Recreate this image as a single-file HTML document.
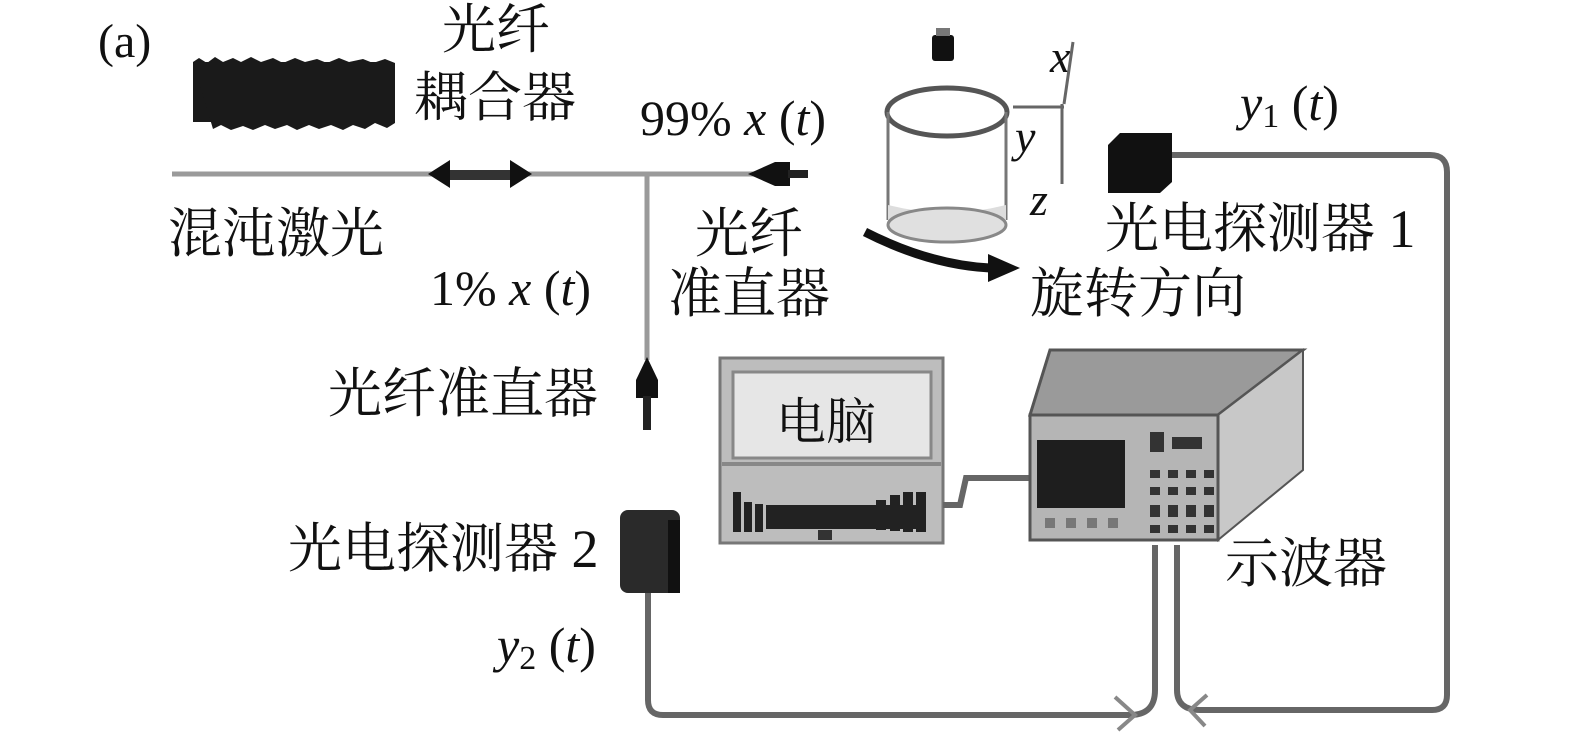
<!DOCTYPE html>
<html><head><meta charset="utf-8"><style>
html,body{margin:0;padding:0;background:#fff}
svg{display:block}
text{font-family:"Liberation Serif","Noto Serif CJK SC",serif;fill:#111}
.cj{font-size:54px}
.it{font-style:italic}
</style></head><body>
<svg width="1575" height="748" viewBox="0 0 1575 748" xmlns="http://www.w3.org/2000/svg">
<!-- labels -->
<text x="98" y="57" font-size="48">(a)</text>
<text class="cj" x="442" y="48">光纤</text>
<text class="cj" x="414" y="116">耦合器</text>
<text x="640" y="135" font-size="50">99% <tspan class="it">x</tspan> (<tspan class="it">t</tspan>)</text>
<text class="cj" x="168" y="252">混沌激光</text>
<text class="cj" x="695" y="252">光纤</text>
<text class="cj" x="668" y="312">准直器</text>
<text x="430" y="305" font-size="50">1% <tspan class="it">x</tspan> (<tspan class="it">t</tspan>)</text>
<text class="cj" x="328" y="412">光纤准直器</text>
<text class="cj" x="1105" y="247">光电探测器 1</text>
<text class="cj" x="1030" y="312">旋转方向</text>
<text x="1240" y="120" font-size="50"><tspan class="it">y</tspan><tspan font-size="34" dy="7">1</tspan><tspan dy="-7"> (</tspan><tspan class="it">t</tspan>)</text>
<text class="cj" x="288" y="567">光电探测器 2</text>
<text x="497" y="662" font-size="50"><tspan class="it">y</tspan><tspan font-size="34" dy="7">2</tspan><tspan dy="-7"> (</tspan><tspan class="it">t</tspan>)</text>
<text class="cj" x="1225" y="582">示波器</text>
<text class="it" x="1050" y="72" font-size="46">x</text>
<text class="it" x="1015" y="152" font-size="46">y</text>
<text class="it" x="1030" y="215" font-size="46">z</text>

<!-- noise block -->
<rect x="193" y="62" width="194" height="60" fill="#1a1a1a"/>
<path d="M193 62 l6 -4 l8 5 l8 -6 l8 5 l10 -4 l8 4 l10 -5 l10 5 l12 -4 l10 5 l12 -5 l10 4 l12 -3 l10 4 l12 -5 l10 4 l14 -3 l10 4 l12 -4 l10 4 v60 l-8 5 l-12 -5 l-10 6 l-12 -4 l-10 5 l-12 -5 l-12 4 l-10 -4 l-12 5 l-10 -5 l-12 4 l-10 -4 l-12 5 l-10 -4 l-12 4 l-10 -5 l-8 4z" fill="#1a1a1a"/>

<!-- main fiber -->
<line x1="172" y1="174" x2="800" y2="174" stroke="#9a9a9a" stroke-width="5"/>
<line x1="647" y1="174" x2="647" y2="360" stroke="#9a9a9a" stroke-width="5"/>
<!-- coupler -->
<rect x="448" y="170" width="66" height="10" fill="#333"/>
<polygon points="428,174 450,160 450,188" fill="#111"/>
<polygon points="532,174 510,160 510,188" fill="#111"/>
<!-- right collimator -->
<polygon points="748,174 775,162 790,162 790,186 775,186" fill="#111"/>
<rect x="788" y="170" width="20" height="8" fill="#222"/>
<!-- lower collimator -->
<polygon points="647,357 636,380 636,398 658,398 658,380" fill="#111"/>
<rect x="643" y="396" width="8" height="34" fill="#222"/>

<!-- cylinder -->
<rect x="932" y="35" width="22" height="26" rx="3" fill="#111"/>
<rect x="936" y="28" width="14" height="8" fill="#777"/>
<ellipse cx="947" cy="112" rx="60" ry="24" fill="none" stroke="#555" stroke-width="5"/>
<line x1="888" y1="112" x2="888" y2="220" stroke="#777" stroke-width="3"/>
<line x1="1006" y1="112" x2="1006" y2="220" stroke="#777" stroke-width="3"/>
<path d="M888 205 Q947 220 1006 205 L1006 225 Q947 250 888 225Z" fill="#ddd"/>
<ellipse cx="947" cy="225" rx="59" ry="17" fill="#e0e0e0" stroke="#888" stroke-width="3"/>
<path d="M865 232 Q930 265 990 268" fill="none" stroke="#111" stroke-width="9"/>
<polygon points="1020,268 988,254 988,282" fill="#111"/>
<!-- axes -->
<line x1="1073" y1="42" x2="1064" y2="104" stroke="#666" stroke-width="3"/>
<line x1="1013" y1="107" x2="1064" y2="107" stroke="#666" stroke-width="3"/>
<line x1="1062" y1="104" x2="1062" y2="184" stroke="#666" stroke-width="3"/>

<!-- detector 1 -->
<polygon points="1108,145 1120,133 1172,133 1172,182 1160,193 1108,193" fill="#111"/>
<!-- detector 2 -->
<rect x="620" y="510" width="60" height="83" rx="8" fill="#2a2a2a"/>
<rect x="668" y="520" width="12" height="73" fill="#111"/>

<!-- cables -->
<path d="M1172 155 H1430 Q1447 155 1447 172 V695 Q1447 710 1432 710 H1200 Q1177 710 1177 690 V545" fill="none" stroke="#666" stroke-width="6"/>
<path d="M648 593 V700 Q648 715 663 715 H1130 Q1155 715 1155 690 V545" fill="none" stroke="#666" stroke-width="6"/>
<path d="M1115 697 L1135 715 L1118 730" fill="none" stroke="#888" stroke-width="4"/>
<path d="M1207 695 L1190 710 L1205 726" fill="none" stroke="#888" stroke-width="4"/>

<!-- laptop -->
<rect x="720" y="358" width="223" height="185" fill="#bdbdbd" stroke="#777" stroke-width="3"/>
<rect x="733" y="372" width="198" height="86" fill="#e6e6e6" stroke="#888" stroke-width="3"/>
<rect x="722" y="462" width="219" height="4" fill="#888"/>
<g fill="#222">
<rect x="733" y="492" width="8" height="40"/><rect x="744" y="502" width="8" height="30"/><rect x="755" y="504" width="8" height="28"/>
<rect x="766" y="505" width="150" height="24"/>
<rect x="876" y="500" width="10" height="30"/><rect x="890" y="495" width="10" height="36"/><rect x="903" y="492" width="10" height="40"/><rect x="916" y="492" width="10" height="40"/>
</g>
<rect x="818" y="530" width="14" height="10" fill="#333"/>
<text x="776" y="439" font-size="50">电脑</text>
<path d="M943 505 H960 L966 478 H1030" fill="none" stroke="#666" stroke-width="6"/>

<!-- oscilloscope -->
<polygon points="1030,415 1050,350 1303,350 1218,415" fill="#9a9a9a" stroke="#555" stroke-width="3"/>
<polygon points="1218,415 1303,350 1303,470 1218,540" fill="#c8c8c8" stroke="#555" stroke-width="2"/>
<rect x="1030" y="415" width="188" height="125" fill="#b5b5b5" stroke="#555" stroke-width="3"/>
<rect x="1037" y="440" width="88" height="68" fill="#1e1e1e"/>
<g fill="#333">
<rect x="1150" y="432" width="14" height="20"/><rect x="1172" y="437" width="30" height="12"/>
<rect x="1150" y="470" width="10" height="8"/><rect x="1168" y="470" width="10" height="8"/><rect x="1186" y="470" width="10" height="8"/><rect x="1204" y="470" width="10" height="8"/>
<rect x="1150" y="487" width="10" height="8"/><rect x="1168" y="487" width="10" height="8"/><rect x="1186" y="487" width="10" height="8"/><rect x="1204" y="487" width="10" height="8"/>
<rect x="1150" y="505" width="10" height="12"/><rect x="1168" y="505" width="10" height="12"/><rect x="1186" y="505" width="10" height="12"/><rect x="1204" y="505" width="10" height="12"/>
<rect x="1150" y="525" width="10" height="8"/><rect x="1168" y="525" width="10" height="8"/><rect x="1186" y="525" width="10" height="8"/><rect x="1204" y="525" width="10" height="8"/>
<rect x="1045" y="518" width="10" height="10" fill="#777"/><rect x="1066" y="518" width="10" height="10" fill="#777"/><rect x="1087" y="518" width="10" height="10" fill="#777"/><rect x="1108" y="518" width="10" height="10" fill="#777"/>
</g>
</svg>
</body></html>
